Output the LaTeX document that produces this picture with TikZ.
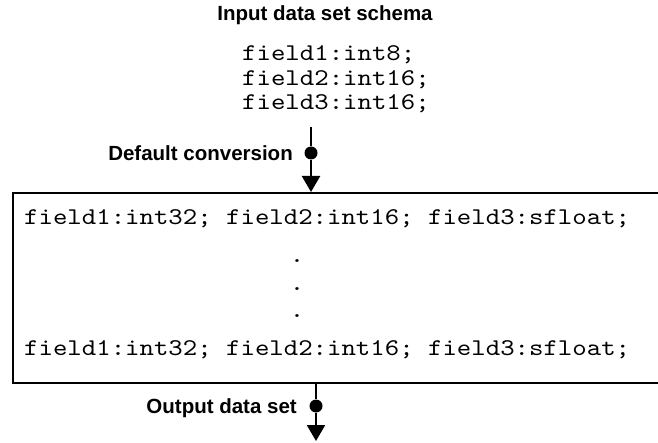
\documentclass[tikz,border=0pt]{standalone}
\usepackage{fontspec}
\setmainfont{Liberation Sans}
% typewriter face widened to a 0.6em cell
\setmonofont{lmmono10-regular.otf}[FakeStretch=1.145]
\usetikzlibrary{arrows.meta}
\begin{document}
\frenchspacing
\begin{tikzpicture}[x=1pt,y=-1pt,
  lbl/.style={font=\fontsize{20.5}{24}\selectfont\bfseries, inner sep=0pt},
  code/.style={font=\fontsize{24}{28}\selectfont\ttfamily, inner sep=0pt,
    text height=15pt, text depth=3pt, anchor=base west},
  codeblock/.style={font=\fontsize{24}{24.75}\selectfont\ttfamily, inner sep=0pt,
    align=left, anchor=north west},
  flowline/.style={line width=2.4pt},
  flow/.style={line width=2.4pt, -{Triangle[length=16pt,width=18pt]}},
  joint/.style={circle, fill=black, inner sep=0pt, minimum size=13pt},
  recbox/.style={draw, line width=2pt, inner sep=0pt, anchor=north west},
]
\useasboundingbox (0,0) rectangle (658,443);

% input schema
\node[lbl, anchor=base] (title) at (325,20.5) {Input data set schema};
\node[codeblock] (schema) at (242,45.3) {field1:int8;\\field2:int16;\\field3:int16;};

% record box (open to the right)
\node[recbox, minimum width=660pt, minimum height=190pt] (box) at (12,192) {};
\node[code] (r1) at (24,225) {field1:int32; field2:int16; field3:sfloat;};
\node[code, anchor=base] (dot1) at (297,263) {.};
\node[code, anchor=base] (dot2) at (297,290.5) {.};
\node[code, anchor=base] (dot3) at (297,318) {.};
\node[code] (r2) at (24,355) {field1:int32; field2:int16; field3:sfloat;};

% default conversion connector
\coordinate (intop) at (311,127);
\node[joint] (j1) at (311,153) {};
\node[lbl, anchor=base east] (conv) at (293,160.3) {Default conversion};
\draw[flowline] (intop) -- (j1);
\draw[flow] (j1) -- (j1 |- box.north);

% output connector
\node[joint] (j2) at (316,406) {};
\coordinate (outend) at (316,441);
\node[lbl, anchor=base east] (out) at (297,413) {Output data set};
\draw[flowline] (j2 |- box.south) -- (j2);
\draw[flow] (j2) -- (outend);
\end{tikzpicture}
\end{document}
